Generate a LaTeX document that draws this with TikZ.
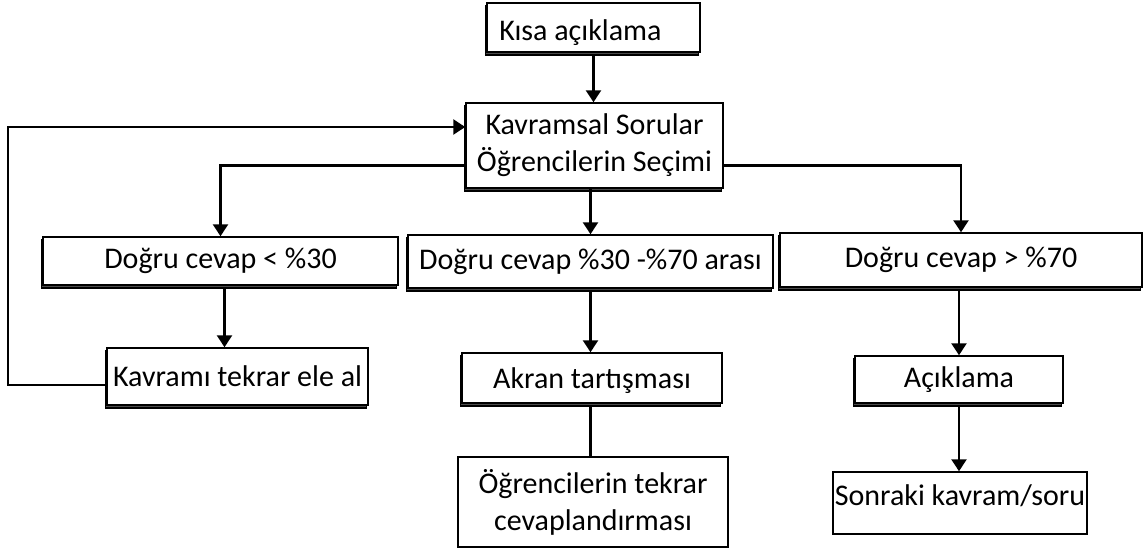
\documentclass[tikz,border=0pt]{standalone}
\usepackage{fontspec}
\setmainfont{Carlito}
\usetikzlibrary{arrows.meta,shadows,calc}
\newcommand{\vshift}[2]{\raisebox{#1}[22pt][7pt]{#2}}
\begin{document}
\begin{tikzpicture}[x=1pt,y=-1pt,
  box/.style={draw=black, line width=1.5pt, fill=white, inner sep=0pt, align=center,
    font=\fontsize{30}{37}\selectfont},
  sbox/.style={box, copy shadow={shadow xshift=-1.5pt, shadow yshift=-3pt, draw=black, fill=black!70, line width=1.5pt}},
  conn/.style={line width=2.5pt, draw=black},
  arr/.style={conn, -{Triangle[length=12pt,width=15pt]}}]
\useasboundingbox (0,0) rectangle (1146,550);
\node[sbox, minimum width=213pt, minimum height=49pt] (kisa) at (593.5,27.5) {\vshift{-5pt}{Kısa açıklama}\hspace{26pt}};
\node[sbox, minimum width=257pt, minimum height=85pt] (kav) at (594.5,145.5) {Kavramsal Sorular\hspace{6pt}\\Öğrencilerin Seçimi\hspace{18pt}};
\node[sbox, minimum width=355pt, minimum height=48pt] (low) at (220.5,261) {Doğru cevap < \%30};
\node[sbox, minimum width=261pt, minimum height=57pt] (tek) at (237.5,376.5) {Kavramı tekrar ele al};
\node[sbox, minimum width=365pt, minimum height=53pt] (mid) at (590.5,261.5) {Doğru cevap \%30 -\%70 arası};
\node[sbox, minimum width=260pt, minimum height=50pt] (akr) at (592,378) {\vshift{-3pt}{Akran tartışması}};
\node[box, minimum width=270pt, minimum height=90pt] (ogr) at (593,502) {Öğrencilerin tekrar\\cevaplandırması};
\node[sbox, minimum width=362pt, minimum height=54pt] (high) at (961,260) {Doğru cevap > \%70};
\node[sbox, minimum width=208pt, minimum height=47pt] (aci) at (959,379.5) {Açıklama};
\node[box, minimum width=254pt, minimum height=62pt] (son) at (960,503) {\vshift{5pt}{Sonraki kavram/soru}};
% connectors
\draw[arr] ([yshift=-3pt]kisa.south) -- (kisa.south |- kav.north);
\draw[arr] (kav.south -| mid.north) -- (mid.north);
\draw[arr] ([yshift=-20pt]kav.west) -| (low.north);
\draw[arr] ([yshift=-20pt]kav.east) -| (high.north);
\draw[arr] ([xshift=4pt,yshift=-3pt]low.south) -- ([xshift=4pt]low.south |- tek.north);
\draw[arr] ([yshift=-3pt]mid.south) -- (mid.south |- akr.north);
\draw[conn] ([yshift=-3pt]akr.south -| mid.south) -- (mid.south |- ogr.north);
\draw[arr] ([yshift=-3pt]high.south -| aci.north) -- (aci.north);
\draw[arr] ([yshift=-3pt]aci.south) -- (aci.south |- son.north);
\coordinate (fbA) at (8,385);
\coordinate (fbB) at (8,127);
\draw[arr] ([yshift=-8.5pt]tek.west) -- (fbA) -- (fbB) -- (fbB -| kav.west);
\end{tikzpicture}
\end{document}
